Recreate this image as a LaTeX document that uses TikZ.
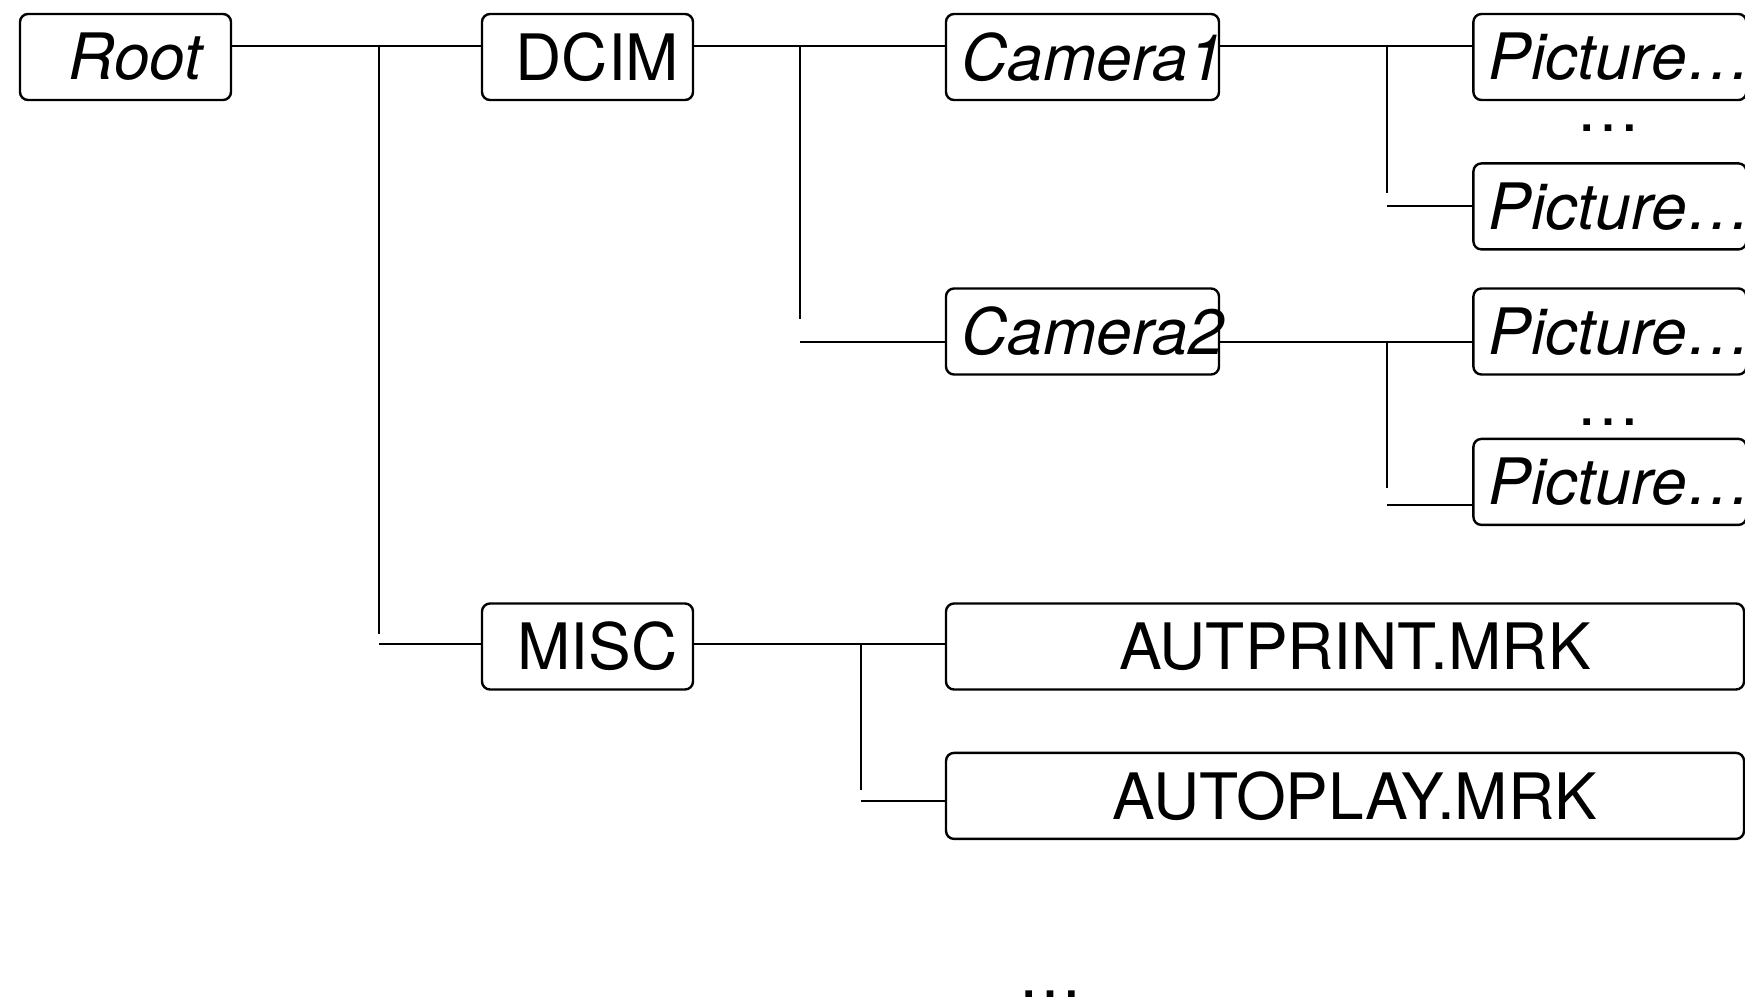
\documentclass[tikz,border=0pt]{standalone}
\usepackage{fontspec}
\setmainfont{TeX Gyre Heros}
\usetikzlibrary{positioning}
\newcommand\bigfont{\fontsize{64}{76}\selectfont}
\tikzset{
box/.style={
  draw,
  rounded corners=8pt,
  line width=2.4pt,
  inner sep=0pt,
  minimum height=86pt,
  execute at begin node=\hspace*{10pt},
  execute at end node=\hspace*{-10pt},
  font=\bigfont
  },
dirbox/.style={
  box,
  minimum width=211pt
  },
subbox/.style={
  box,
  minimum width=273pt,
  font=\bigfont\itshape
  },
filebox/.style={
  box,
  minimum width=798pt
  },
more/.style={
  inner sep=0pt,
  font=\bigfont
  },
link/.style={line width=2pt}
}

\begin{document}
\begin{tikzpicture}[x=1pt,y=-1pt]
\useasboundingbox (0,0) rectangle (1745,998);

\node[dirbox,font=\bigfont\itshape] at (125.5,57) (root) {Root};
\node[dirbox] at (587.5,57) (dcim) {DCIM};
\node[dirbox] at (587.5,646.5) (misc) {MISC};

\node[subbox] at (1082.5,57) (cam1) {Camera1};
\node[subbox] at (1082.5,331.5) (cam2) {Camera2};

\node[subbox,right=252pt of cam1] (pic1) {Picture…};
\node[subbox,below=61pt of pic1] (pic2) {Picture…};
\node[subbox,right=252pt of cam2] (pic3) {Picture…};
\node[subbox,below=62pt of pic3] (pic4) {Picture…};

\node[filebox] at (1345,646.5) (autprint) {AUTPRINT.MRK};
\node[filebox,below=61pt of autprint] (autoplay) {AUTOPLAY.MRK};

\node[more] at (1608,128) (dotsa) {…};
\node[more] at (1608,422) (dotsb) {…};
\node[more] at (1050,994) (dotsc) {…};

\coordinate (t1) at (379,46);
\coordinate (t1b) at (379,634);
\coordinate (t2) at (800,46);
\coordinate (t2b) at (800,319);
\coordinate (t3) at (1387,46);
\coordinate (t3b) at (1387,193);
\coordinate (t4) at (1387,342);
\coordinate (t4b) at (1387,488);
\coordinate (t5) at (861,643);
\coordinate (t5b) at (861,790);
\coordinate (cam2in) at ([yshift=-10pt]cam2.west);
\coordinate (pic4in) at ([yshift=-23pt]pic4.west);
\coordinate (autoin) at ([yshift=-5pt]autoplay.west);

\draw[link]
  ([yshift=11pt]root.east) -- ([yshift=11pt]dcim.west);
\draw[link]
  (t1) -- (t1b);
\draw[link]
  ([yshift=3pt]misc.west -| t1) -- ([yshift=3pt]misc.west);

\draw[link]
  ([yshift=11pt]dcim.east) -- ([yshift=11pt]cam1.west);
\draw[link]
  (t2) -- (t2b);
\draw[link]
  (t2 |- cam2in) -- (cam2in);

\draw[link]
  ([yshift=11pt]cam1.east) -- ([yshift=11pt]pic1.west);
\draw[link]
  (t3) -- (t3b);
\draw[link]
  (t3 |- pic2.west) -- (pic2.west);

\draw[link]
  ([yshift=-10pt]cam2.east) -- ([yshift=-10pt]pic3.west);
\draw[link]
  (t4) -- (t4b);
\draw[link]
  (t4 |- pic4in) -- (pic4in);

\draw[link]
  ([yshift=3pt]misc.east) -- ([yshift=3pt]autprint.west);
\draw[link]
  (t5) -- (t5b);
\draw[link]
  (t5 |- autoin) -- (autoin);
\end{tikzpicture}
\end{document}
